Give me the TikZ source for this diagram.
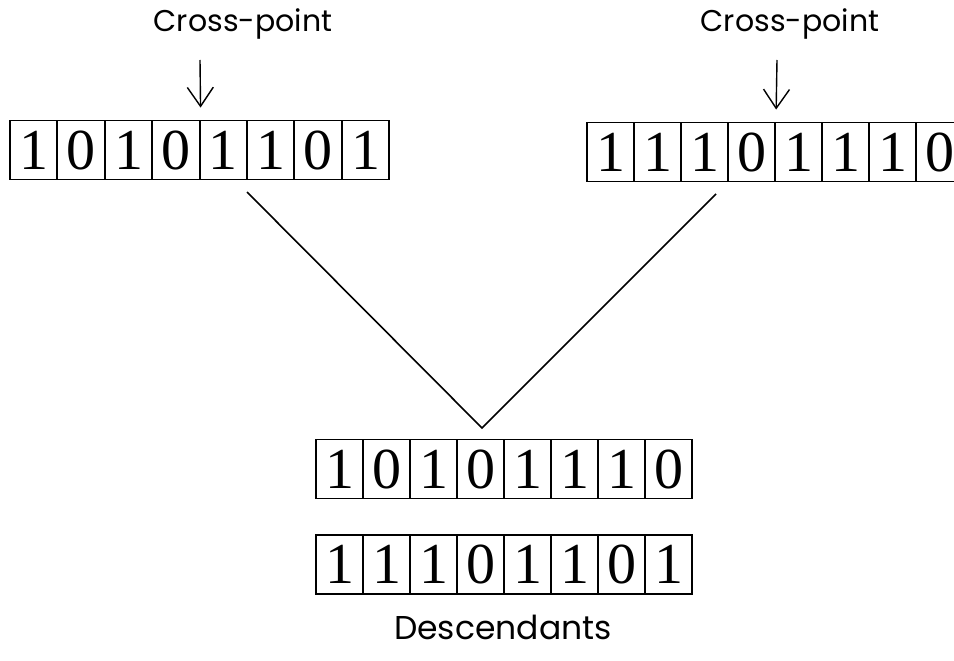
\documentclass[tikz,border=0pt]{standalone}
\usepackage{fontspec}
\newfontfamily\bitfont{Liberation Serif}
\newfontfamily\labfont{Poppins}
\usetikzlibrary{arrows.meta,positioning}

\begin{document}
\begin{tikzpicture}[x=1pt,y=-1pt,
		bit/.style={draw, line width=1.9pt, minimum width=47.4pt, minimum height=59pt,
			inner sep=0pt, font=\bitfont\fontsize{58}{58}\selectfont},
		lab/.style={font=\labfont\fontsize{30}{30}\selectfont, inner sep=0pt},
		cut/.style={line width=1.4pt, -{Straight Barb[length=19pt,width=26pt,line width=1.4pt]}}
	]
	\useasboundingbox (0,0) rectangle (954,661);
	
	% parents
	\foreach \b [count=\i] in {1,0,1,0,1,1,0,1}
		\node[bit] (pa\i) at ({10+47.4*(\i-0.5)},150) {\b};
	\foreach \b [count=\i] in {1,1,1,0,1,1,1,0}
		\node[bit] (pb\i) at ({587+47*(\i-0.5)},152) {\b};
	
	% descendants
	\foreach \b [count=\i] in {1,0,1,0,1,1,1,0}
		\node[bit] (ca\i) at ({316+47*(\i-0.5)},469) {\b};
	\foreach \b [count=\i] in {1,1,1,0,1,1,0,1}
		\node[bit] (cb\i) at ({316+47*(\i-0.5)},564.5) {\b};
	
	% labels
	\node[lab] (cpa) at (243,24) {Cross-point};
	\node[lab] (cpb) at (790,24) {Cross-point};
	\node[lab, font=\labfont\fontsize{33}{33}\selectfont] (desc) at (503,627) {Descendants};
	
	\coordinate (ta) at (200,60);
	\coordinate (tb) at (777,60);
	\draw[cut] (ta) -- ([yshift=12pt]pa4.north east);
	\draw[cut] (tb) -- ([yshift=12pt]pb4.north east);
	
	% crossover
	\coordinate (la) at (247,192);
	\coordinate (apex) at (482,428);
	\coordinate (lb) at (716,194);
	\draw[line width=1.6pt] (la) -- (apex) -- (lb);
\end{tikzpicture}
\end{document}
